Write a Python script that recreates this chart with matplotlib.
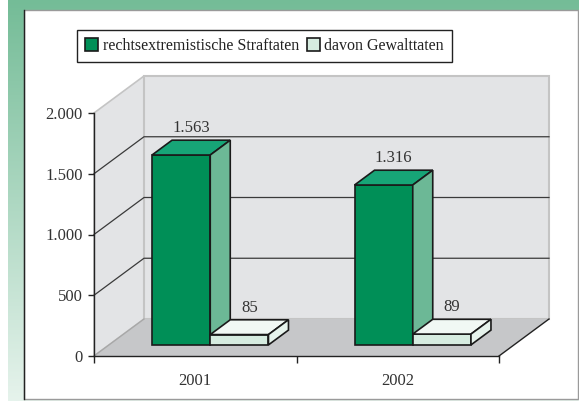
import matplotlib
matplotlib.use('Agg')
import matplotlib.pyplot as plt
import numpy as np
from matplotlib.patches import Polygon, Rectangle, Patch
from matplotlib.lines import Line2D
from matplotlib.colors import LinearSegmentedColormap
from matplotlib.ticker import FuncFormatter

# data
years = ['2001', '2002']
labels = ['rechtsextremistische Straftaten', 'davon Gewalttaten']
straftaten = [1563, 1316]
gewalttaten = [85, 89]
yticks = [0, 500, 1000, 1500, 2000]

# colours per series: front, top, side
cols = [('#008f57', '#17a577', '#6cb896'),
        ('#d6ece0', '#f1f8f4', '#e6f3ec')]

plt.rcParams['font.family'] = ['Liberation Serif', 'DejaVu Serif']
FS = 12

W, H = 579, 401
fig = plt.figure(figsize=(W / 100, H / 100), dpi=100)
fig.patch.set_facecolor('white')

# green gradient frame
bg = fig.add_axes([8 / W, 0, 1 - 8 / W, 1], zorder=0)
cmap = LinearSegmentedColormap.from_list('g', ['#74bc97', '#e6f3ec'])
bg.imshow(np.linspace(0, 1, 256)[:, None], aspect='auto', cmap=cmap,
          extent=[0, 1, 0, 1], origin='upper')
bg.axis('off')

# white panel
fig.add_artist(Rectangle((24 / W, 1 - 399 / H), (578 - 24) / W, (399 - 10) / H,
                         transform=fig.transFigure, facecolor='white',
                         edgecolor='#9a9a9a', lw=1, zorder=1))
fig.add_artist(Line2D([24 / W, 24 / W], [1 - 399 / H, 1 - 10 / H],
                      transform=fig.transFigure, color='#222222', lw=1, zorder=1))

ax = fig.add_axes([94 / W, 1 - 356 / H, 405 / W, 243 / H], zorder=2)
ax.set_facecolor('none')
ax.set_xlim(0, 2)
ax.set_ylim(0, 2000)

# oblique depth offset in data units
DX = 50 / 202.5
DY = 37 / 243 * 2000
ymax = yticks[-1]


def P(x, v, d):
    return (x + d * DX, v + d * DY)


def poly(pts, fc, ec, lw, z):
    ax.add_patch(Polygon(pts, closed=True, facecolor=fc, edgecolor=ec, lw=lw,
                         zorder=z, clip_on=False, joinstyle='miter'))


# walls and floor
poly([P(0, 0, 0), P(0, 0, 1), P(0, ymax, 1), P(0, ymax, 0)], '#e3e4e6', '#c4c4c4', 1.2, 1)
poly([P(0, 0, 1), P(2, 0, 1), P(2, ymax, 1), P(0, ymax, 1)], '#e3e4e6', '#c4c4c4', 1.5, 1)
poly([P(0, 0, 0), P(2, 0, 0), P(2, 0, 1), P(0, 0, 1)], '#c6c7c9', 'none', 0, 1)
ax.plot(*zip(P(0, 0, 0), P(0, 0, 1)), color='#a8a8a8', lw=1, zorder=1.5, clip_on=False)
ax.plot(*zip(P(2, 0, 0), P(2, 0, 1)), color='#222222', lw=1, zorder=1.5, clip_on=False)

for v in yticks[1:-1]:
    pts = [P(0, v, 0), P(0, v, 1), P(2, v, 1)]
    ax.plot(*zip(*pts), color='#3a3a3a', lw=0.9, zorder=1.6, clip_on=False)

fmt = lambda v: f'{int(v):,}'.replace(',', '.')

# bars
bw = 0.2875
d0, d1 = 0.3, 0.7
for i, vals in enumerate(zip(straftaten, gewalttaten)):
    for s, v in enumerate(vals):
        x0 = i + 0.5 - bw + s * bw
        x1 = x0 + bw
        front, top, side = cols[s]
        z = 3 + i * 2 + s
        poly([P(x0, 0, d0), P(x1, 0, d0), P(x1, v, d0), P(x0, v, d0)], front, '#1a1a1a', 1.2, z)
        poly([P(x0, v, d0), P(x1, v, d0), P(x1, v, d1), P(x0, v, d1)], top, '#1a1a1a', 1.2, z)
        poly([P(x1, 0, d0), P(x1, 0, d1), P(x1, v, d1), P(x1, v, d0)], side, '#1a1a1a', 1.2, z)
        tx, _ = P(x0 + bw / 2, v, 0.5)
        _, ty = P(x0 + bw / 2, v, d1)
        ax.annotate(fmt(v), (tx, ty), xytext=(0, 3), textcoords='offset points',
                    ha='center', va='bottom', fontsize=FS, color='#333333',
                    annotation_clip=False, zorder=10)

# axes
for sp in ['top', 'right']:
    ax.spines[sp].set_visible(False)
for sp in ['left', 'bottom']:
    ax.spines[sp].set_color('#222222')
    ax.spines[sp].set_linewidth(1)
    ax.spines[sp].set_zorder(2)

ax.set_yticks(yticks)
ax.yaxis.set_major_formatter(FuncFormatter(lambda v, _: fmt(v)))
ax.tick_params(axis='y', direction='out', length=4, width=1, color='#222222',
               labelsize=FS, labelcolor='#333333', pad=4)
ax.set_xticks([0, 1, 2])
ax.set_xticklabels([])
ax.set_xticks([0.5, 1.5], minor=True)
ax.set_xticklabels(years, minor=True)
ax.tick_params(axis='x', which='major', direction='out', length=5, width=1, color='#222222')
ax.tick_params(axis='x', which='minor', length=0, pad=12, labelsize=FS, labelcolor='#333333')

handles = [Patch(facecolor=cols[s][0], edgecolor='#1a1a1a', lw=1.2) for s in range(2)]
leg = fig.legend(handles, labels, loc='center', bbox_to_anchor=(264.5 / W, 1 - 46 / H),
                 ncol=2, frameon=True, fancybox=False, edgecolor='#222222', framealpha=1,
                 fontsize=11.5, handlelength=0.8, handleheight=0.8, handletextpad=0.3,
                 columnspacing=0.5, borderpad=0.5, borderaxespad=0)
leg.get_frame().set_linewidth(1)
leg.set_zorder(5)
for t in leg.get_texts():
    t.set_color('#222222')

fig.savefig('out.png', dpi=100)
